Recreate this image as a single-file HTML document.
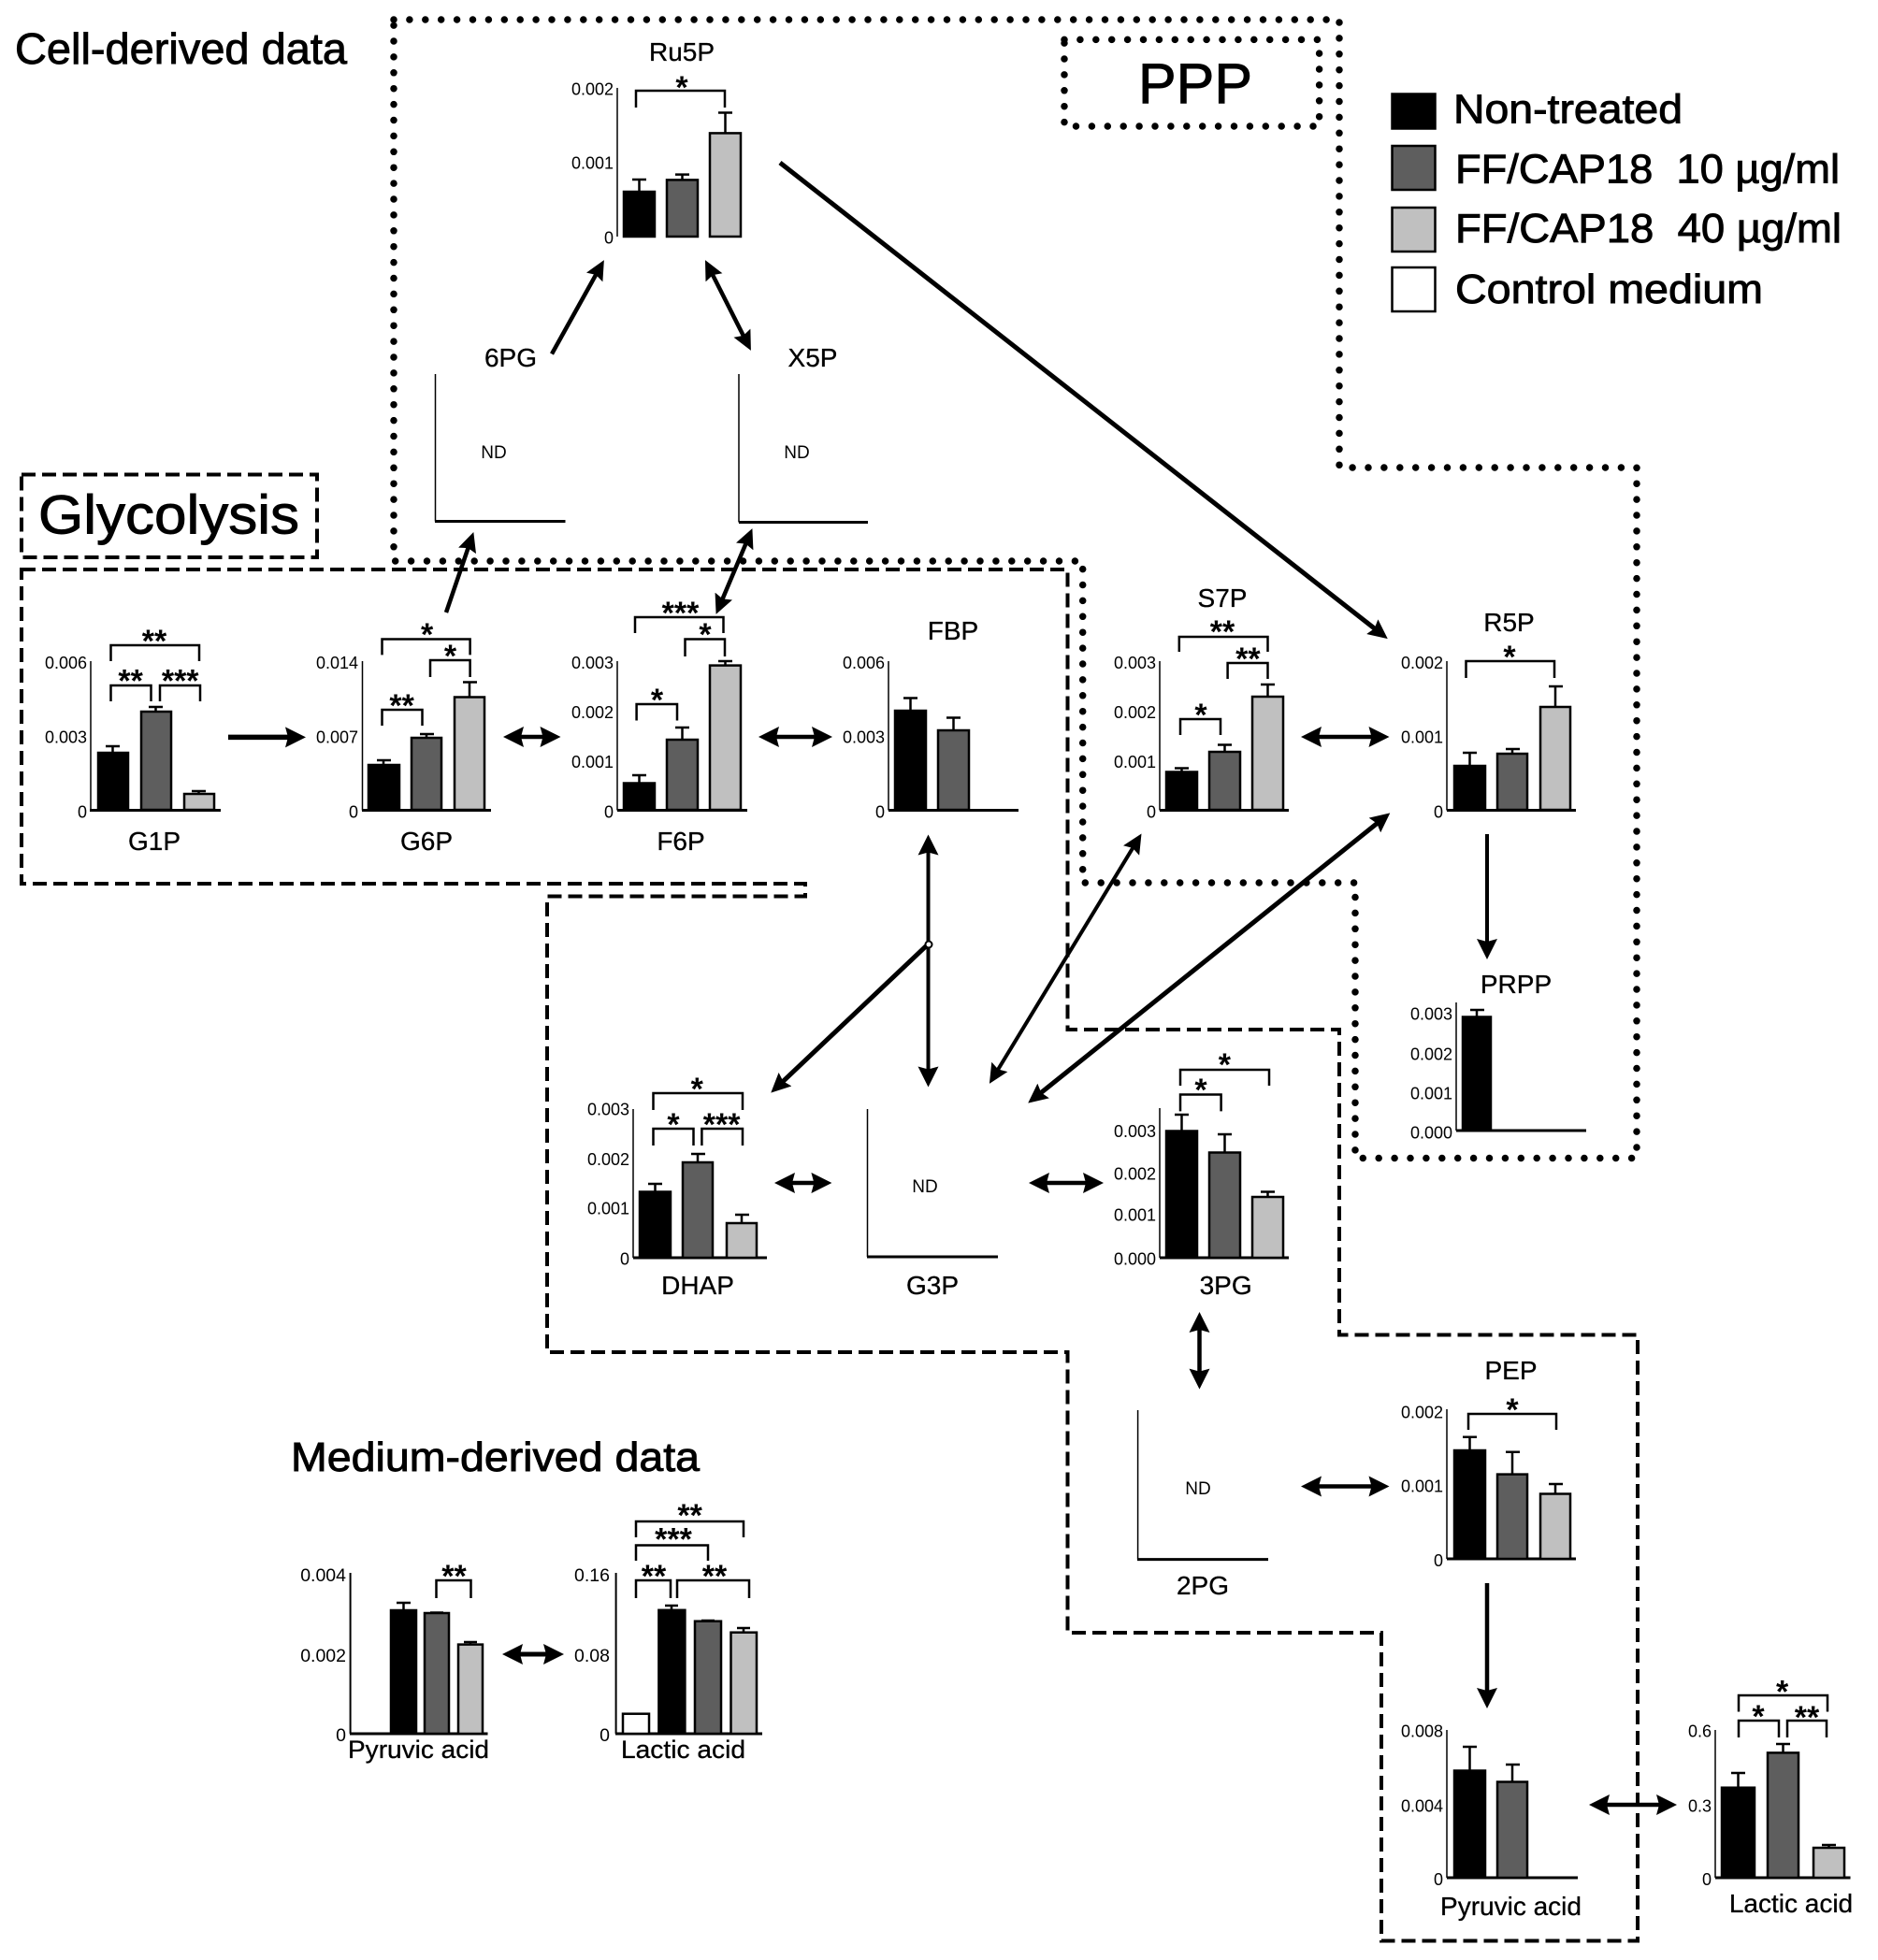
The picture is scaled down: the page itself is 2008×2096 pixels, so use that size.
<!DOCTYPE html>
<html><head><meta charset="utf-8"><style>
html,body{margin:0;padding:0;background:#fff}
svg{display:block}
text{font-family:"Liberation Sans",sans-serif;fill:#000}
.t{font-size:18px;text-anchor:end}
.m{font-size:19.5px;text-anchor:end}
.n{font-size:28px;text-anchor:middle;stroke:#000;stroke-width:.3}
.nd{font-size:19px;text-anchor:middle}
.s{font-size:34px;font-weight:bold;text-anchor:middle}
.h{stroke:#000;stroke-width:.9}
.k{fill:#000;stroke:#000;stroke-width:2.5}
.d{fill:#5e5e5e;stroke:#000;stroke-width:2.5}
.l{fill:#c0c0c0;stroke:#000;stroke-width:2.5}
.w{fill:#fff;stroke:#000;stroke-width:2.5}
.e,.br,.ay,.ax{fill:none;stroke:#000}
.e{stroke-width:2.5}
.br{stroke-width:2.5}
.ay{stroke-width:1.5}
.ax{stroke-width:3}
.ar{fill:none;stroke:#000}
</style></head><body>
<svg width="2008" height="2096" viewBox="0 0 2008 2096" xmlns="http://www.w3.org/2000/svg">
<defs>
<marker id="h" markerUnits="userSpaceOnUse" markerWidth="22" markerHeight="22" refX="12" refY="11" orient="auto-start-reverse"><path d="M22,11 L0,0 L3,11 L0,22 Z"/></marker>
<marker id="g" markerUnits="userSpaceOnUse" markerWidth="21" markerHeight="20" refX="11" refY="10" orient="auto-start-reverse"><path d="M21,10 L0,0 L3,10 L0,20 Z"/></marker>
</defs>
<rect width="2008" height="2096" fill="#fff"/>

<!-- regions -->
<path d="M421,21 H1432 V500 H1750 V1238.5 H1449 V944 H1157.7 V600 H421 Z" fill="none" stroke="#000" stroke-width="7.5" stroke-linecap="round" stroke-dasharray="0 16.9"/>
<path d="M1138,42.4 H1410.6 V135 H1138 Z" fill="none" stroke="#000" stroke-width="7.5" stroke-linecap="round" stroke-dasharray="0 16.9"/>
<path d="M23,507.5 H339 V596 H23 Z" fill="none" stroke="#000" stroke-width="4" stroke-dasharray="15 7"/>
<path d="M23,609 H1141.5 V1101 H1432 V1427.5 H1751 V2075.5 H1477 V1746 H1141.5 V1446 H585 V958.5 H861 V945 H23 Z" fill="none" stroke="#000" stroke-width="4" stroke-dasharray="15 7"/>

<!-- headings -->
<text class="h" x="16" y="68" font-size="46" textLength="355" lengthAdjust="spacingAndGlyphs">Cell-derived data</text>
<text class="h" x="311" y="1573" font-size="44" textLength="437" lengthAdjust="spacingAndGlyphs">Medium-derived data</text>
<text class="h" x="41" y="570.5" font-size="58" textLength="279" lengthAdjust="spacingAndGlyphs">Glycolysis</text>
<text class="h" x="1217" y="110" font-size="60" textLength="122" lengthAdjust="spacingAndGlyphs">PPP</text>

<!-- legend -->
<rect class="k" x="1488.5" y="100.5" width="46" height="37"/>
<rect class="d" x="1488.5" y="156" width="46" height="47"/>
<rect class="l" x="1488.5" y="222" width="46" height="47"/>
<rect class="w" x="1488.5" y="286" width="46" height="47"/>
<text class="h" x="1554" y="131.7" font-size="44" textLength="245" lengthAdjust="spacingAndGlyphs">Non-treated</text>
<text class="h" x="1556" y="195.5" font-size="44" textLength="411" lengthAdjust="spacingAndGlyphs">FF/CAP18&#160;&#160;10 µg/ml</text>
<text class="h" x="1556" y="259" font-size="44" textLength="413" lengthAdjust="spacingAndGlyphs">FF/CAP18&#160;&#160;40 µg/ml</text>
<text class="h" x="1556" y="324" font-size="44" textLength="329" lengthAdjust="spacingAndGlyphs">Control medium</text>

<!-- Ru5P -->
<text class="n" x="729" y="65">Ru5P</text>
<path class="ay" d="M660,94 V253"/>
<text class="t" x="656" y="101.5">0.002</text><text class="t" x="656" y="180.5">0.001</text><text class="t" x="656" y="260.5">0</text>
<rect class="k" x="667" y="205" width="33" height="48"/><rect class="d" x="713" y="192.4" width="33" height="60.6"/><rect class="l" x="759" y="142.4" width="33" height="110.6"/>
<path class="e" d="M683.5,205V192M676,192h15M729.5,192.4V186.6M722,186.6h15M775.5,142.4V120.5M768,120.5h15"/>
<path class="br" d="M680,115V97H775V115"/><text class="s" x="729" y="105">*</text>

<!-- 6PG X5P -->
<text class="n" x="546" y="392">6PG</text>
<path class="ay" d="M465.5,400V557.5"/><path class="ax" d="M465,557.5H604.5"/><text class="nd" x="528" y="490">ND</text>
<text class="n" x="869" y="392">X5P</text>
<path class="ay" d="M790,400V558.5"/><path class="ax" d="M790,558.5H928"/><text class="nd" x="852" y="490">ND</text>

<!-- G1P -->
<path class="ay" d="M97,707V866.5"/><path class="ax" d="M96,866.5H236"/>
<text class="t" x="93" y="715">0.006</text><text class="t" x="93" y="794.5">0.003</text><text class="t" x="93" y="874.5">0</text>
<rect class="k" x="105" y="805" width="32" height="61"/><rect class="d" x="151" y="761" width="32" height="105"/><rect class="l" x="197" y="849" width="32" height="17"/>
<path class="e" d="M120.5,805V798M113,798h15M166.5,761V756M159,756h15M212.5,849V846M205,846h15"/>
<path class="br" d="M118.5,707V690H213V707M118.5,750V733H161.5V750M171,750V733H214V750"/>
<text class="s" x="165" y="697">**</text><text class="s" x="139.6" y="739.5">**</text><text class="s" x="192.7" y="739.5">***</text>
<text class="n" x="165" y="909">G1P</text>

<!-- G6P -->
<path class="ay" d="M387.5,707V866.5"/><path class="ax" d="M387,866.5H525"/>
<text class="t" x="383" y="715">0.014</text><text class="t" x="383" y="794.5">0.007</text><text class="t" x="383" y="874.5">0</text>
<rect class="k" x="394" y="818" width="33" height="48"/><rect class="d" x="440" y="789" width="32" height="77"/><rect class="l" x="486" y="745.5" width="32" height="120.5"/>
<path class="e" d="M410,818V813M403,813h15M456,789V785M449,785h15M502,745.5V729.5M495,729.5h15"/>
<path class="br" d="M408.5,700.4V683.5H502.6V700.4M460,724V706H502.6V724M408.5,776V759H451.5V776"/>
<text class="s" x="456.6" y="690">*</text><text class="s" x="481.5" y="713">*</text><text class="s" x="429.6" y="766">**</text>
<text class="n" x="456" y="909">G6P</text>

<!-- F6P -->
<path class="ay" d="M660,707V866.5"/><path class="ax" d="M660,866.5H799"/>
<text class="t" x="656" y="715">0.003</text><text class="t" x="656" y="768">0.002</text><text class="t" x="656" y="821">0.001</text><text class="t" x="656" y="874.5">0</text>
<rect class="k" x="667" y="837.5" width="33" height="28.5"/><rect class="d" x="713" y="791" width="33" height="75"/><rect class="l" x="759" y="711.6" width="33" height="154.4"/>
<path class="e" d="M683.5,837.5V829M676,829h15M729.5,791V778M722,778h15M775.5,711.6V707M768,707h15"/>
<path class="br" d="M679,677V660H773.5V677M732.5,702V683.5H775V702M680.6,770.5V753H724V770.5"/>
<text class="s" x="727.5" y="667">***</text><text class="s" x="754" y="690">*</text><text class="s" x="702.5" y="760">*</text>
<text class="n" x="728" y="909">F6P</text>

<!-- FBP -->
<text class="n" x="1019" y="684">FBP</text>
<path class="ay" d="M950,707V866.5"/><path class="ax" d="M950,866.5H1089"/>
<text class="t" x="946" y="715">0.006</text><text class="t" x="946" y="794.5">0.003</text><text class="t" x="946" y="874.5">0</text>
<rect class="k" x="957" y="760" width="33" height="106"/><rect class="d" x="1003" y="781" width="33" height="85"/>
<path class="e" d="M973.5,760V746.5M966,746.5h15M1019.5,781V767.5M1012,767.5h15"/>

<!-- S7P -->
<text class="n" x="1307" y="649">S7P</text>
<path class="ay" d="M1240,707V866.5"/><path class="ax" d="M1240,866.5H1378"/>
<text class="t" x="1236" y="715">0.003</text><text class="t" x="1236" y="768">0.002</text><text class="t" x="1236" y="821">0.001</text><text class="t" x="1236" y="874.5">0</text>
<rect class="k" x="1247" y="825.5" width="33" height="40.5"/><rect class="d" x="1293" y="804" width="33" height="62"/><rect class="l" x="1339" y="745" width="33" height="121"/>
<path class="e" d="M1263.5,825.5V821.5M1256,821.5h15M1309.5,804V796.5M1302,796.5h15M1355.5,745V732M1348,732h15"/>
<path class="br" d="M1260.8,697V681H1355.5V697M1312.6,726V709H1355.5V726M1262,786V769H1305V786"/>
<text class="s" x="1307" y="687">**</text><text class="s" x="1334.4" y="716">**</text><text class="s" x="1284" y="776">*</text>

<!-- R5P -->
<text class="n" x="1613.5" y="675">R5P</text>
<path class="ay" d="M1547,707V866.5"/><path class="ax" d="M1547,866.5H1685"/>
<text class="t" x="1543" y="715">0.002</text><text class="t" x="1543" y="794.5">0.001</text><text class="t" x="1543" y="874.5">0</text>
<rect class="k" x="1555" y="819" width="33" height="47"/><rect class="d" x="1601" y="806" width="32" height="60"/><rect class="l" x="1647" y="756" width="32" height="110"/>
<path class="e" d="M1571.5,819V805M1564,805h15M1617,806V801M1610,801h15M1663,756V734M1656,734h15"/>
<path class="br" d="M1567.5,725V707H1662V725"/><text class="s" x="1614" y="714">*</text>

<!-- PRPP -->
<text class="n" x="1621" y="1062">PRPP</text>
<path class="ay" d="M1557,1072V1209"/><path class="ax" d="M1557,1209H1696"/>
<text class="t" x="1553" y="1090.5">0.003</text><text class="t" x="1553" y="1133.5">0.002</text><text class="t" x="1553" y="1175.5">0.001</text><text class="t" x="1553" y="1217.5">0.000</text>
<rect class="k" x="1564" y="1087.5" width="30" height="121.5"/>
<path class="e" d="M1579,1087.5V1080M1572,1080h15"/>

<!-- DHAP -->
<path class="ay" d="M677,1186V1345"/><path class="ax" d="M677,1345H820"/>
<text class="t" x="673" y="1192.5">0.003</text><text class="t" x="673" y="1246">0.002</text><text class="t" x="673" y="1298.5">0.001</text><text class="t" x="673" y="1352.5">0</text>
<rect class="k" x="684" y="1274.5" width="33" height="70.5"/><rect class="d" x="730" y="1243" width="32" height="102"/><rect class="l" x="777" y="1308" width="32" height="37"/>
<path class="e" d="M700.5,1274.5V1266M693,1266h15M746,1243V1234M739,1234h15M793,1308V1299M786,1299h15"/>
<path class="br" d="M698.5,1187V1169H794V1187M698.5,1225V1207H741.5V1225M750.4,1225V1207H794V1225"/>
<text class="s" x="745.3" y="1176">*</text><text class="s" x="720" y="1214">*</text><text class="s" x="771.6" y="1214">***</text>
<text class="n" x="746" y="1384">DHAP</text>

<!-- G3P -->
<path class="ay" d="M927.5,1186V1344"/><path class="ax" d="M927,1344H1067"/>
<text class="nd" x="989" y="1275">ND</text>
<text class="n" x="997" y="1384">G3P</text>

<!-- 3PG -->
<path class="ay" d="M1240,1185V1345"/><path class="ax" d="M1240,1345H1378"/>
<text class="t" x="1236" y="1216">0.003</text><text class="t" x="1236" y="1261.5">0.002</text><text class="t" x="1236" y="1305.5">0.001</text><text class="t" x="1236" y="1352.5">0.000</text>
<rect class="k" x="1247" y="1209.5" width="33" height="135.5"/><rect class="d" x="1293" y="1232.5" width="33" height="112.5"/><rect class="l" x="1339" y="1280" width="33" height="65"/>
<path class="e" d="M1263.5,1209.5V1192M1256,1192h15M1309.5,1232.5V1213M1302,1213h15M1355.5,1280V1274.5M1348,1274.5h15"/>
<path class="br" d="M1262,1161V1144H1357V1161M1262,1188.4V1170.5H1305.6V1188.4"/>
<text class="s" x="1309.4" y="1150">*</text><text class="s" x="1284" y="1177">*</text>
<text class="n" x="1310.6" y="1384">3PG</text>

<!-- 2PG -->
<path class="ay" d="M1216.6,1508V1667.6"/><path class="ax" d="M1216,1667.6H1356"/>
<text class="nd" x="1281" y="1598">ND</text>
<text class="n" x="1286" y="1705">2PG</text>

<!-- PEP -->
<text class="n" x="1615.5" y="1475">PEP</text>
<path class="ay" d="M1547,1507V1667"/><path class="ax" d="M1547,1667H1685"/>
<text class="t" x="1543" y="1516.5">0.002</text><text class="t" x="1543" y="1595.5">0.001</text><text class="t" x="1543" y="1675">0</text>
<rect class="k" x="1555" y="1551" width="33" height="116"/><rect class="d" x="1601" y="1576.6" width="32" height="90.4"/><rect class="l" x="1647" y="1597.5" width="32" height="69.5"/>
<path class="e" d="M1571.5,1551V1536.7M1564,1536.7h15M1617,1576.6V1552.7M1610,1552.7h15M1663,1597.5V1587M1656,1587h15"/>
<path class="br" d="M1570,1529V1512H1664V1529"/><text class="s" x="1617" y="1519">*</text>

<!-- Pyruvic right -->
<path class="ay" d="M1547,1850V2008"/><path class="ax" d="M1547,2008H1687"/>
<text class="t" x="1543" y="1857.5">0.008</text><text class="t" x="1543" y="1937.5">0.004</text><text class="t" x="1543" y="2016">0</text>
<rect class="k" x="1555" y="1893.5" width="33" height="114.5"/><rect class="d" x="1601" y="1905.5" width="32" height="102.5"/>
<path class="e" d="M1571.5,1893.5V1868M1564,1868h15M1617,1905.5V1887M1610,1887h15"/>
<text class="n" x="1615.5" y="2048">Pyruvic acid</text>

<!-- Lactic right -->
<path class="ay" d="M1834,1850V2008"/><path class="ax" d="M1834,2008H1978.5"/>
<text class="t" x="1830" y="1857.5">0.6</text><text class="t" x="1830" y="1937.5">0.3</text><text class="t" x="1830" y="2016">0</text>
<rect class="k" x="1841" y="1911.7" width="35" height="96.3"/><rect class="d" x="1890" y="1874.4" width="33" height="133.6"/><rect class="l" x="1939" y="1976" width="33" height="32"/>
<path class="e" d="M1858.5,1911.7V1896M1851,1896h15M1906.5,1874.4V1865M1899,1865h15M1955.5,1976V1973M1948,1973h15"/>
<path class="br" d="M1859,1830.5V1813H1954V1830.5M1859,1858V1840H1902V1858M1911,1858V1840H1953V1858"/>
<text class="s" x="1905.6" y="1820.5">*</text><text class="s" x="1880" y="1847">*</text><text class="s" x="1932" y="1848">**</text>
<text class="n" x="1915" y="2045">Lactic acid</text>

<!-- Medium Pyruvic -->
<path class="ay" d="M374.6,1682V1854" style="stroke-width:2"/><path class="ax" d="M374,1854H521.5"/>
<text class="m" x="370" y="1691">0.004</text><text class="m" x="370" y="1777">0.002</text><text class="m" x="370" y="1862">0</text>
<rect class="k" x="418" y="1722" width="27" height="132"/><rect class="d" x="454" y="1725" width="26" height="129"/><rect class="l" x="490" y="1758.6" width="26" height="95.4"/>
<path class="e" d="M431.5,1722V1714M424,1714h15M467,1725V1724.5M460,1724.5h14M503,1758.6V1756M496,1756h14"/>
<path class="br" d="M466.5,1709V1690H503.5V1709"/><text class="s" x="485.5" y="1697">**</text>
<text class="h" style="stroke-width:.3" x="372" y="1880" font-size="27" textLength="151" lengthAdjust="spacingAndGlyphs">Pyruvic acid</text>

<!-- Medium Lactic -->
<path class="ay" d="M658.6,1682V1854" style="stroke-width:2"/><path class="ax" d="M658,1854H815"/>
<text class="m" x="652" y="1691">0.16</text><text class="m" x="652" y="1777">0.08</text><text class="m" x="652" y="1862">0</text>
<rect class="w" x="666" y="1832.7" width="28" height="21.3"/><rect class="k" x="704.4" y="1721.8" width="28" height="132.2"/><rect class="d" x="743" y="1733.7" width="28" height="120.3"/><rect class="l" x="781.5" y="1745.7" width="27.5" height="108.3"/>
<path class="e" d="M718,1721.8V1717M711,1717h14M757,1733.7V1733M750,1733h14M795,1745.7V1741M788,1741h14"/>
<path class="br" d="M680,1644V1627H795V1644M680,1669V1652.5H757V1669M680,1709V1690H717V1709M724,1709V1690H801V1709"/>
<text class="s" x="737.6" y="1632">**</text><text class="s" x="720" y="1657.5">***</text><text class="s" x="699" y="1697">**</text><text class="s" x="764" y="1697">**</text>
<text class="h" style="stroke-width:.3" x="664" y="1880" font-size="27" textLength="133" lengthAdjust="spacingAndGlyphs">Lactic acid</text>

<!-- arrows -->
<g class="ar">
<path stroke-width="5.5" d="M244,788.4H317" marker-end="url(#h)"/>
<path stroke-width="4.5" d="M548,788H589.5" marker-start="url(#h)" marker-end="url(#h)"/>
<path stroke-width="4.5" d="M821,788H880" marker-start="url(#h)" marker-end="url(#h)"/>
<path stroke-width="4" d="M992.5,902.5V1152.5" marker-start="url(#h)" marker-end="url(#h)"/>
<path stroke-width="5" d="M992,1010L831.5,1161.8" marker-end="url(#g)"/>
<path stroke-width="4.5" d="M838,1265H879.4" marker-start="url(#h)" marker-end="url(#h)"/>
<path stroke-width="4.5" d="M1110,1265H1170" marker-start="url(#h)" marker-end="url(#h)"/>
<path stroke-width="4.5" d="M1282.5,1413V1475.6" marker-start="url(#h)" marker-end="url(#h)"/>
<path stroke-width="4.5" d="M1401,1589.5H1475.5" marker-start="url(#h)" marker-end="url(#h)"/>
<path stroke-width="4.5" d="M1590,1693V1817" marker-end="url(#h)"/>
<path stroke-width="4.5" d="M1709,1930H1783" marker-start="url(#h)" marker-end="url(#h)"/>
<path stroke-width="4" d="M1590,892V1016" marker-end="url(#h)"/>
<path stroke-width="4.5" d="M1401,788H1475.5" marker-start="url(#h)" marker-end="url(#h)"/>
<path stroke-width="5" d="M834,174L1475.9,677" marker-end="url(#g)"/>
<path stroke-width="4.5" d="M590,378.5L641,286.9" marker-end="url(#g)"/>
<path stroke-width="4.5" d="M758.5,287L798.4,366" marker-start="url(#g)" marker-end="url(#g)"/>
<path stroke-width="4.5" d="M477,655L503.1,578.5" marker-end="url(#g)"/>
<path stroke-width="4.5" d="M769.5,647.7L800.5,574.3" marker-start="url(#g)" marker-end="url(#g)"/>
<path stroke-width="4" d="M1215.3,900.1L1063.1,1150.3" marker-start="url(#g)" marker-end="url(#g)"/>
<path stroke-width="5" d="M1478.5,875.6L1107,1173.4" marker-start="url(#g)" marker-end="url(#g)"/>
<path stroke-width="5" d="M547,1769H593" marker-start="url(#h)" marker-end="url(#h)"/>
</g>
<circle cx="993" cy="1010" r="3.5" fill="#fff" stroke="#000" stroke-width="2"/>
</svg>
</body></html>
